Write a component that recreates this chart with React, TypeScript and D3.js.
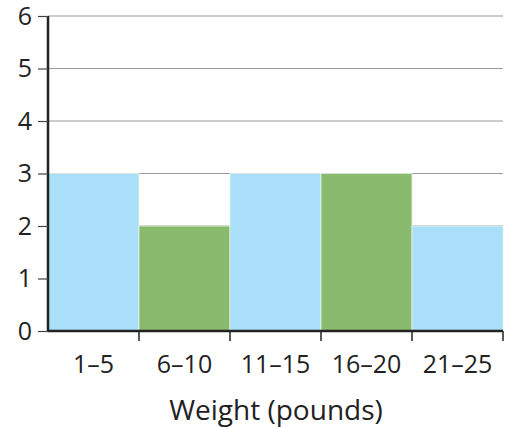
import React, { useRef, useEffect } from "react";
import * as d3 from "d3";

const categories = ["1–5", "6–10", "11–15", "16–20", "21–25"];
const counts = [3, 2, 3, 3, 2];
const yTicks = [0, 1, 2, 3, 4, 5, 6];
const barColors = ["#a9dff8", "#8aba6d"];

const App = () => {
  const node: any = useRef();

  useEffect(() => {
    const width = 506,
      height = 427;
    const margin = { top: 16, right: 3, bottom: 96, left: 48 };

    const svg = d3.select(node.current);
    svg.selectAll("*").remove();
    svg.attr("width", width).attr("height", height);

    const x = d3
      .scaleBand()
      .domain(categories)
      .range([margin.left, width - margin.right])
      .padding(0);
    const y = d3
      .scaleLinear()
      .domain([0, 6])
      .range([height - margin.bottom, margin.top]);

    const font = "'Open Sans', sans-serif";

    // gridlines
    svg
      .append("g")
      .selectAll("line")
      .data(yTicks.filter(d => d > 0))
      .enter()
      .append("line")
      .attr("x1", margin.left)
      .attr("x2", width - margin.right)
      .attr("y1", d => y(d))
      .attr("y2", d => y(d))
      .attr("stroke", "#9a9a9a")
      .attr("stroke-width", 1.2);

    // bars
    svg
      .append("g")
      .selectAll("rect")
      .data(counts)
      .enter()
      .append("rect")
      .attr("x", (_, i) => x(categories[i]) as number)
      .attr("width", x.bandwidth())
      .attr("y", d => y(d))
      .attr("height", d => y(0) - y(d))
      .attr("fill", (_, i) => barColors[i % 2])
      .attr("stroke", "#e8f3e0")
      .attr("stroke-width", 0.8);

    // y axis
    const yAxis = svg
      .append("g")
      .attr("transform", `translate(${margin.left},0)`)
      .call(d3.axisLeft(y).tickValues(yTicks).tickSize(10).tickPadding(6).tickFormat(d3.format("d")));
    yAxis.select(".domain").attr("stroke", "#222").attr("stroke-width", 2.5).attr("d", `M0,${y(6)}V${y(0)}`);
    yAxis.selectAll(".tick line").attr("stroke", "#444").attr("stroke-width", 1.2);
    yAxis
      .selectAll(".tick text")
      .attr("font-family", font)
      .attr("font-size", 25)
      .attr("fill", "#222");

    // x axis
    const xAxis = svg
      .append("g")
      .attr("transform", `translate(0,${y(0)})`)
      .call(d3.axisBottom(x).tickSize(0).tickPadding(0));
    xAxis.select(".domain").attr("stroke", "#222").attr("stroke-width", 2.5).attr("d", `M${margin.left},0H${width - margin.right}`);
    xAxis
      .selectAll(".tick text")
      .attr("dy", null)
      .attr("y", 42)
      .attr("font-family", font)
      .attr("font-size", 25)
      .attr("fill", "#222");

    // bin boundary ticks
    const edges = categories.map(c => x(c) as number).concat([width - margin.right]);
    svg
      .append("g")
      .selectAll("line")
      .data(edges.slice(1))
      .enter()
      .append("line")
      .attr("x1", d => d)
      .attr("x2", d => d)
      .attr("y1", y(0))
      .attr("y2", y(0) + 10)
      .attr("stroke", "#222")
      .attr("stroke-width", 1.5);

    // axis title
    svg
      .append("text")
      .attr("x", 276)
      .attr("y", 420)
      .attr("text-anchor", "middle")
      .attr("font-family", font)
      .attr("font-size", 28)
      .attr("fill", "#222")
      .text("Weight (pounds)");
  }, []);

  return (
    <div style={{ position: "absolute", left: 0, top: 0 }}>
      <svg ref={node}></svg>
    </div>
  );
};

export default App;
